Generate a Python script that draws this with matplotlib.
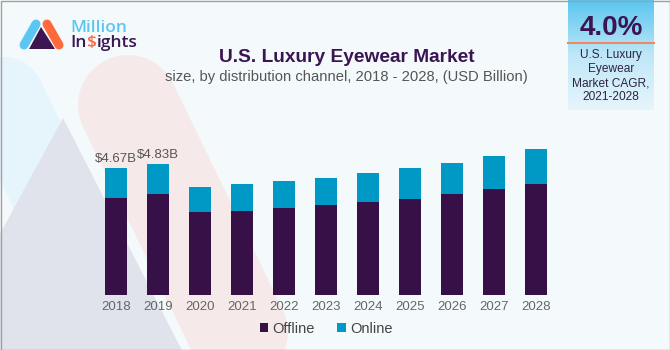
import numpy as np
import matplotlib
matplotlib.use("Agg")
import matplotlib.pyplot as plt
from matplotlib.patches import Polygon, Rectangle
from matplotlib.colors import LinearSegmentedColormap

# dados do gráfico
anos = ["2018", "2019", "2020", "2021", "2022", "2023", "2024", "2025", "2026", "2027", "2028"]
offline = [3.59, 3.72, 3.07, 3.11, 3.21, 3.32, 3.42, 3.54, 3.72, 3.90, 4.08]
online = [1.08, 1.11, 0.91, 0.97, 0.99, 1.00, 1.08, 1.13, 1.13, 1.22, 1.29]
rotulos = ["$4.67B", "$4.83B"]

cor_offline = "#371047"
cor_online = "#0098c5"
roxo = "#3a1552"

plt.rcParams['font.family'] = ['Liberation Sans', 'DejaVu Sans']

fig = plt.figure(figsize=(6.7, 3.5), dpi=100)
fig.patch.set_facecolor("#f4fafc")

# fundo decorativo em coordenadas de pixel
bg = fig.add_axes([0, 0, 1, 1], zorder=0)
bg.set_xlim(0, 670)
bg.set_ylim(350, 0)
bg.axis("off")

px = 0.72  # 1 pixel em pontos
bg.plot([4, 60], [97, 212], color="#e6f4fc", lw=80 * px, solid_capstyle="round", zorder=0.5)
bg.add_patch(Polygon([(63, 118), (-60, 344), (192, 370)], closed=True,
                     facecolor="#e0e3eb", edgecolor="none", zorder=0.6))
bg.plot([128, 238], [105, 332], color="#f6e9e9", lw=100 * px, solid_capstyle="round", zorder=0.7)

# logo
bg.plot([24, 36], [45, 24], color="#5bc6f2", lw=9 * px, solid_capstyle="round")
bg.plot([47, 59], [24, 45], color="#ff6a3d", lw=9 * px, solid_capstyle="round")
bg.add_patch(Polygon([(41, 27), (29, 49), (55, 49)], closed=True,
                     facecolor="#3b1650", edgecolor="none", zorder=3))
bg.text(70, 32.5, "Million", color="#5bc6f2", fontsize=12.5, family="Open Sans",
        fontweight="semibold", va="baseline", ha="left")
t1 = bg.text(70, 47, "In", color="#3b1650", fontsize=12.5, family="Open Sans",
             fontweight="semibold", va="baseline", ha="left")

# caixa CAGR
grad = np.linspace(0, 1, 100).reshape(-1, 1)
cmap = LinearSegmentedColormap.from_list("cagr", ["#5ac6ef", "#bfe7f8", "#e6f5fc"])
bg.imshow(grad, extent=(568, 654, 110, 0), cmap=cmap, aspect="auto", zorder=1)
bg.plot([568, 654], [42.5, 42.5], color="#f0875e", lw=2 * px, zorder=2)
bg.text(611, 28, "4.0%", color=roxo, fontsize=20, fontweight="bold",
        ha="center", va="center", zorder=3)
bg.text(611, 76, "U.S. Luxury\nEyewear\nMarket CAGR,\n2021-2028", color="#2e2440",
        fontsize=8.6, ha="center", va="center", linespacing=1.25, zorder=3)

# borda
bg.add_patch(Rectangle((0.5, 0.5), 669, 349, facecolor="none", edgecolor="#a0a0a0", lw=1, zorder=4))
bg.set_xlim(0, 670)
bg.set_ylim(350, 0)

# títulos
fig.text(347 / 670, 1 - 58 / 350, "U.S. Luxury Eyewear Market", color=roxo,
         fontsize=13.8, fontweight="bold", ha="center", va="center")
fig.text(346 / 670, 1 - 77 / 350, "size, by distribution channel, 2018 - 2028, (USD Billion)",
         color="#555555", fontsize=10.6, ha="center", va="center")

# gráfico de barras
ax = fig.add_axes([84.5 / 670, 55 / 350, 483 / 670, 162.8 / 350], zorder=2)
ax.patch.set_visible(False)
x = np.arange(len(anos))
ax.bar(x, offline, width=0.53, color=cor_offline, label="Offline")
ax.bar(x, online, width=0.53, bottom=offline, color=cor_online, label="Online")
for i, r in enumerate(rotulos):
    ax.text(x[i], offline[i] + online[i] + 0.12, r, ha="center", va="bottom",
            color="#555555", fontsize=9.5)
ax.set_xlim(-0.75, 10.75)
ax.set_ylim(0, 6)
ax.set_xticks(x)
ax.set_xticklabels(anos, color="#666666", fontsize=9.5)
ax.set_yticks([])
ax.tick_params(axis="x", length=0, pad=4)
for s in ax.spines.values():
    s.set_visible(False)

ax.legend(loc="center", bbox_to_anchor=(326 / 670, 21 / 350), bbox_transform=fig.transFigure,
          ncol=2, frameon=False, fontsize=10.5, handlelength=0.6, handleheight=0.6,
          columnspacing=1.5, handletextpad=0.3, labelcolor="#444444")

# resto do "Insights" com o $ laranja
fig.canvas.draw()
r = fig.canvas.get_renderer()
inv = bg.transData.inverted()
bb = t1.get_window_extent(r)
x2 = inv.transform((bb.x1, bb.y0))[0]
t2 = bg.text(x2, 47, "$", color="#ff6a3d", fontsize=12.5, family="Open Sans",
             fontweight="semibold", va="baseline", ha="left")
bb = t2.get_window_extent(r)
x3 = inv.transform((bb.x1, bb.y0))[0]
bg.text(x3, 47, "ights", color="#3b1650", fontsize=12.5, family="Open Sans",
        fontweight="semibold", va="baseline", ha="left")

fig.savefig("out.png", dpi=100, facecolor=fig.get_facecolor())
